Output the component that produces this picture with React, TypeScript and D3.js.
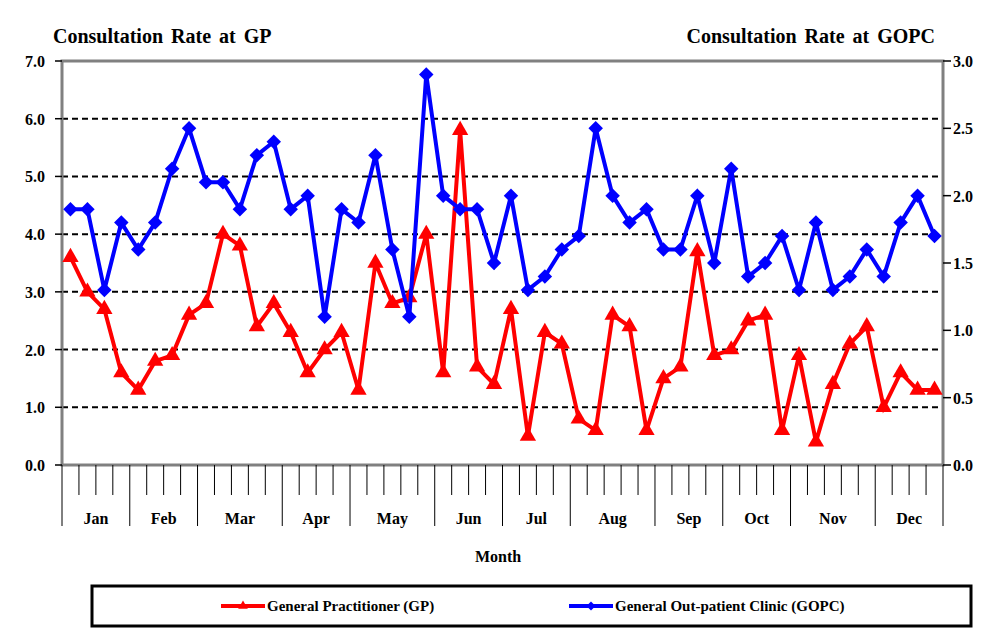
import React, { useRef, useEffect } from 'react';
import * as d3 from 'd3';

const months = ["Jan", "Feb", "Mar", "Apr", "May", "Jun", "Jul", "Aug", "Sep", "Oct", "Nov", "Dec"];
const weeksPerMonth = [4, 4, 5, 4, 5, 4, 4, 5, 4, 4, 5, 4];

const gpRate = [
  3.6, 3.0, 2.7, 1.6, 1.3, 1.8, 1.9, 2.6, 2.8, 4.0, 3.8, 2.4, 2.8,
  2.3, 1.6, 2.0, 2.3, 1.3, 3.5, 2.8, 2.9, 4.0, 1.6, 5.8, 1.7, 1.4,
  2.7, 0.5, 2.3, 2.1, 0.8, 0.6, 2.6, 2.4, 0.6, 1.5, 1.7, 3.7, 1.9,
  2.0, 2.5, 2.6, 0.6, 1.9, 0.4, 1.4, 2.1, 2.4, 1.0, 1.6, 1.3, 1.3
];

const gopcRate = [
  1.9, 1.9, 1.3, 1.8, 1.6, 1.8, 2.2, 2.5, 2.1, 2.1, 1.9, 2.3, 2.4,
  1.9, 2.0, 1.1, 1.9, 1.8, 2.3, 1.6, 1.1, 2.9, 2.0, 1.9, 1.9, 1.5,
  2.0, 1.3, 1.4, 1.6, 1.7, 2.5, 2.0, 1.8, 1.9, 1.6, 1.6, 2.0, 1.5,
  2.2, 1.4, 1.5, 1.7, 1.3, 1.8, 1.3, 1.4, 1.6, 1.4, 1.8, 2.0, 1.7
];

const leftTicks = [0, 1, 2, 3, 4, 5, 6, 7];
const rightTicks = [0, 0.5, 1, 1.5, 2, 2.5, 3];

const FONT = '"Liberation Serif", "Times New Roman", serif';

const App: React.FC = () => {
  const svgRef = useRef<SVGSVGElement | null>(null);

  useEffect(() => {
    const svg = d3.select(svgRef.current);
    svg.selectAll("*").remove();

    const left = 62, right = 943, top = 61, bottom = 465;
    const weeks = d3.range(gpRate.length);

    const x = d3.scaleBand<number>().domain(weeks).range([left, right]);
    const yL = d3.scaleLinear().domain([0, 7]).range([bottom, top]);
    const yR = d3.scaleLinear().domain([0, 3]).range([bottom, top]);

    const label = (g: any, size: number) =>
      g.append("text").style("font-family", FONT).style("font-weight", "bold")
        .attr("font-size", size).attr("fill", "#000");

    // titles
    label(svg, 20).attr("x", 53).attr("y", 43).attr("word-spacing", 3)
      .text("Consultation Rate at GP");
    label(svg, 20).attr("x", 935).attr("y", 43).attr("text-anchor", "end").attr("word-spacing", 3)
      .text("Consultation Rate at GOPC");

    // gridlines
    svg.append("g").selectAll("line")
      .data(leftTicks.filter(d => d > 0 && d < 7))
      .join("line")
      .attr("x1", left).attr("x2", right)
      .attr("y1", d => yL(d)).attr("y2", d => yL(d))
      .attr("stroke", "#000").attr("stroke-width", 2).attr("stroke-dasharray", "6,4");

    // frame
    svg.append("rect").attr("x", left).attr("y", top)
      .attr("width", right - left).attr("height", bottom - top)
      .attr("fill", "none").attr("stroke", "#808080").attr("stroke-width", 3);

    // left axis
    const gl = svg.append("g");
    gl.selectAll("line").data(leftTicks).join("line")
      .attr("x1", 55).attr("x2", left).attr("y1", d => yL(d)).attr("y2", d => yL(d))
      .attr("stroke", "#000").attr("stroke-width", 1.5);
    leftTicks.forEach(d => {
      label(gl, 16).attr("x", 45).attr("y", yL(d) + 6).attr("text-anchor", "end")
        .text(d3.format(".1f")(d));
    });

    // right axis
    const gr = svg.append("g");
    gr.selectAll("line").data(rightTicks).join("line")
      .attr("x1", right).attr("x2", 951).attr("y1", d => yR(d)).attr("y2", d => yR(d))
      .attr("stroke", "#000").attr("stroke-width", 1.5);
    rightTicks.forEach(d => {
      label(gr, 16).attr("x", 953).attr("y", yR(d) + 6).text(d3.format(".1f")(d));
    });

    // x axis ticks
    const monthStarts: number[] = [];
    let acc = 0;
    weeksPerMonth.forEach(n => { monthStarts.push(acc); acc += n; });
    const boundaries = d3.range(gpRate.length + 1);
    const edge = (i: number) => i < gpRate.length ? x(i)! : right;
    svg.append("g").selectAll("line").data(boundaries).join("line")
      .attr("x1", d => edge(d)).attr("x2", d => edge(d))
      .attr("y1", bottom)
      .attr("y2", d => (monthStarts.includes(d) || d === gpRate.length) ? 526 : 495)
      .attr("stroke", "#000").attr("stroke-width", 1);

    const gm = svg.append("g");
    months.forEach((m, i) => {
      const mx = (edge(monthStarts[i]) + edge(monthStarts[i] + weeksPerMonth[i])) / 2;
      label(gm, 16).attr("x", mx).attr("y", 524).attr("text-anchor", "middle").text(m);
    });

    label(svg, 16).attr("x", 498).attr("y", 562).attr("text-anchor", "middle").text("Month");

    // series
    const cx = (i: number) => x(i)! + x.bandwidth() / 2;
    const lineL = d3.line<number>().x((d, i) => cx(i)).y(d => yL(d));
    const lineR = d3.line<number>().x((d, i) => cx(i)).y(d => yR(d));

    svg.append("path").datum(gpRate).attr("d", lineL)
      .attr("fill", "none").attr("stroke", "#ff0000").attr("stroke-width", 4);
    svg.append("g").selectAll("path").data(gpRate).join("path")
      .attr("d", d3.symbol(d3.symbolTriangle, 115)())
      .attr("transform", (d, i) => `translate(${cx(i)},${yL(d)})`)
      .attr("fill", "#ff0000");

    svg.append("path").datum(gopcRate).attr("d", lineR)
      .attr("fill", "none").attr("stroke", "#0000ff").attr("stroke-width", 4);
    svg.append("g").selectAll("path").data(gopcRate).join("path")
      .attr("d", d3.symbol(d3.symbolSquare, 105)())
      .attr("transform", (d, i) => `translate(${cx(i)},${yR(d)}) rotate(45)`)
      .attr("fill", "#0000ff");

    // legend
    const lg = svg.append("g");
    lg.append("rect").attr("x", 92).attr("y", 586).attr("width", 879).attr("height", 40)
      .attr("fill", "#fff").attr("stroke", "#000").attr("stroke-width", 3);
    const items = [
      { label: "General Practitioner (GP)", color: "#ff0000", diamond: false, x0: 221 },
      { label: "General Out-patient Clinic (GOPC)", color: "#0000ff", diamond: true, x0: 569 }
    ];
    items.forEach(it => {
      lg.append("line").attr("x1", it.x0).attr("x2", it.x0 + 44).attr("y1", 606).attr("y2", 606)
        .attr("stroke", it.color).attr("stroke-width", 4);
      lg.append("path")
        .attr("d", d3.symbol(it.diamond ? d3.symbolSquare : d3.symbolTriangle, 40)())
        .attr("transform", `translate(${it.x0 + 22},606)${it.diamond ? " rotate(45)" : ""}`)
        .attr("fill", it.color);
      label(lg, 15).attr("x", it.x0 + 46).attr("y", 611).text(it.label);
    });
  }, []);

  return (
    <svg ref={svgRef} width={1002} height={637}
      style={{ position: 'absolute', left: 0, top: 0, background: '#fff' }} />
  );
};

export default App;
